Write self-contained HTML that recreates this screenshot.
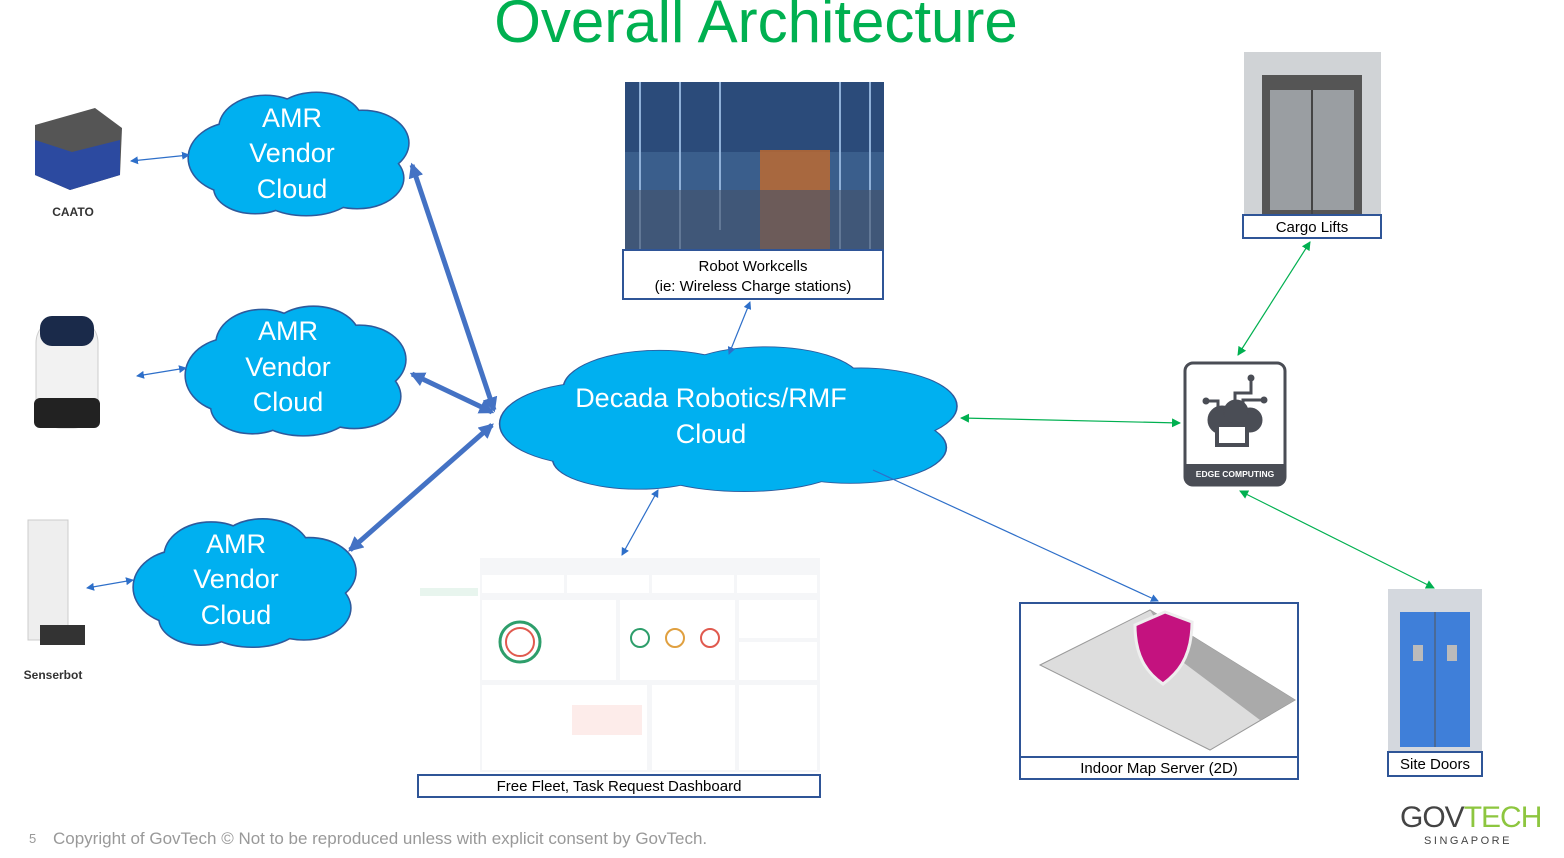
<!DOCTYPE html>
<html><head><meta charset="utf-8"><style>
body{margin:0;width:1564px;height:858px;background:#fff;overflow:hidden;font-family:"Liberation Sans","DejaVu Sans",sans-serif}
svg{position:absolute;left:0;top:0}
</style></head><body>
<svg width="1564" height="858" viewBox="0 0 1564 858">
<defs>
<marker id="bt" markerWidth="3" markerHeight="3" refX="2.5" refY="1.5" orient="auto-start-reverse" markerUnits="strokeWidth"><path d="M0,0 L3,1.5 L0,3z" fill="#4472c4"/></marker>
<marker id="bs" markerWidth="8" markerHeight="8" refX="7" refY="4" orient="auto-start-reverse" markerUnits="userSpaceOnUse"><path d="M0,0 L8,4 L0,8z" fill="#2e6fc9"/></marker>
<marker id="gs" markerWidth="9" markerHeight="9" refX="8" refY="4.5" orient="auto-start-reverse" markerUnits="userSpaceOnUse"><path d="M0,0 L9,4.5 L0,9z" fill="#00b050"/></marker>
<g id="cl">
<ellipse cx="-60" cy="5" rx="45" ry="35"/><ellipse cx="-30" cy="-25" rx="45" ry="32"/><ellipse cx="20" cy="-30" rx="45" ry="30"/><ellipse cx="65" cy="-10" rx="45" ry="32"/><ellipse cx="60" cy="25" rx="45" ry="30"/><ellipse cx="10" cy="35" rx="50" ry="27"/><ellipse cx="-40" cy="35" rx="40" ry="25"/><ellipse cx="0" cy="0" rx="80" ry="45"/>
</g>
</defs>
<text x="756" y="42" text-anchor="middle" font-size="60" fill="#00b050">Overall Architecture</text>

<g transform="translate(296,153) scale(1.02,1.0)"><use href="#cl" fill="#00b0f0" stroke="#2e5a9c" stroke-width="3"/><use href="#cl" fill="#00b0f0"/></g>
<g transform="translate(293,370) scale(1.02,1.05)"><use href="#cl" fill="#00b0f0" stroke="#2e5a9c" stroke-width="3"/><use href="#cl" fill="#00b0f0"/></g>
<g transform="translate(242,582) scale(1.03,1.04)"><use href="#cl" fill="#00b0f0" stroke="#2e5a9c" stroke-width="3"/><use href="#cl" fill="#00b0f0"/></g>
<g transform="translate(723,418) scale(2.12,1.18)"><use href="#cl" fill="#00b0f0" stroke="#2e5a9c" stroke-width="1.5"/><use href="#cl" fill="#00b0f0"/></g>
<g fill="#fff" font-size="27" text-anchor="middle">
<text x="292" y="127">AMR</text><text x="292" y="162">Vendor</text><text x="292" y="198">Cloud</text>
<text x="288" y="340">AMR</text><text x="288" y="376">Vendor</text><text x="288" y="411">Cloud</text>
<text x="236" y="553">AMR</text><text x="236" y="588">Vendor</text><text x="236" y="624">Cloud</text>
<text x="711" y="407">Decada Robotics/RMF</text><text x="711" y="443">Cloud</text>
</g>

<g stroke="#4472c4" stroke-width="5" fill="none">
<line x1="412" y1="165" x2="494" y2="410" marker-start="url(#bt)" marker-end="url(#bt)"/>
<line x1="412" y1="374" x2="492" y2="412" marker-start="url(#bt)" marker-end="url(#bt)"/>
<line x1="350" y1="550" x2="492" y2="425" marker-start="url(#bt)" marker-end="url(#bt)"/>
</g>
<g stroke="#2e6fc9" stroke-width="1.2" fill="none">
<line x1="131" y1="161" x2="189" y2="155" marker-start="url(#bs)" marker-end="url(#bs)"/>
<line x1="137" y1="376" x2="186" y2="368" marker-start="url(#bs)" marker-end="url(#bs)"/>
<line x1="87" y1="588" x2="133" y2="580" marker-start="url(#bs)" marker-end="url(#bs)"/>
<line x1="750" y1="302" x2="729" y2="354" marker-start="url(#bs)" marker-end="url(#bs)"/>
<line x1="658" y1="490" x2="622" y2="555" marker-start="url(#bs)" marker-end="url(#bs)"/>
<line x1="873" y1="470" x2="1158" y2="601" marker-end="url(#bs)"/>
</g>
<g stroke="#00b050" stroke-width="1.2" fill="none">
<line x1="961" y1="418" x2="1180" y2="423" marker-start="url(#gs)" marker-end="url(#gs)"/>
<line x1="1310" y1="242" x2="1238" y2="355" marker-start="url(#gs)" marker-end="url(#gs)"/>
<line x1="1240" y1="491" x2="1434" y2="588" marker-start="url(#gs)" marker-end="url(#gs)"/>
</g>

<path d="M35,125 L95,108 L122,128 L120,175 L70,190 L35,175z" fill="#555"/>
<path d="M35,140 L72,152 L120,140 L120,175 L70,190 L35,175z" fill="#2c4aa0"/>
<text x="73" y="216" font-size="12" text-anchor="middle" fill="#333" font-weight="bold">CAATO</text>
<rect x="36" y="318" width="62" height="110" rx="25" fill="#f2f2f2" stroke="#ccc"/>
<rect x="40" y="316" width="54" height="30" rx="12" fill="#1a2a4a"/>
<rect x="34" y="398" width="66" height="30" rx="6" fill="#222"/>
<rect x="28" y="520" width="40" height="120" fill="#eee" stroke="#ccc"/>
<rect x="40" y="625" width="45" height="20" fill="#333"/>
<text x="53" y="679" font-size="12" text-anchor="middle" fill="#333" font-weight="bold">Senserbot</text>

<rect x="625" y="82" width="259" height="168" fill="#3a5e8c"/>
<rect x="625" y="82" width="259" height="70" fill="#2b4b7a"/>
<g stroke="#8fb0d8" stroke-width="2"><line x1="640" y1="82" x2="640" y2="250"/><line x1="680" y1="82" x2="680" y2="250"/><line x1="720" y1="82" x2="720" y2="230"/><line x1="840" y1="82" x2="840" y2="250"/><line x1="870" y1="82" x2="870" y2="250"/></g>
<rect x="760" y="150" width="70" height="100" fill="#c46a2c" opacity=".8"/>
<rect x="625" y="190" width="259" height="60" fill="#44546a" opacity=".6"/>
<rect x="623" y="250" width="260" height="49" fill="#fff" stroke="#2f5597" stroke-width="2"/>
<text x="753" y="271" font-size="15" text-anchor="middle">Robot Workcells</text>
<text x="753" y="291" font-size="15" text-anchor="middle">(ie: Wireless Charge stations)</text>

<rect x="1244" y="52" width="137" height="163" fill="#d0d3d6"/>
<rect x="1262" y="75" width="100" height="140" fill="#555"/>
<rect x="1270" y="90" width="84" height="120" fill="#9a9ea2"/>
<line x1="1312" y1="90" x2="1312" y2="215" stroke="#444" stroke-width="2"/>
<rect x="1243" y="215" width="138" height="23" fill="#fff" stroke="#2f5597" stroke-width="2"/>
<text x="1312" y="232" font-size="15" text-anchor="middle">Cargo Lifts</text>

<rect x="1185" y="363" width="100" height="122" rx="8" fill="#fff" stroke="#4a4d55" stroke-width="3"/>
<path d="M1185,464 H1285 V477 a8,8 0 0 1 -8,8 H1193 a8,8 0 0 1 -8,-8z" fill="#4a4d55"/>
<text x="1235" y="477" font-size="8.5" font-weight="bold" text-anchor="middle" fill="#fff">EDGE COMPUTING</text>
<g fill="#4a4d55" stroke="#4a4d55"><circle cx="1222" cy="420" r="14"/><circle cx="1250" cy="420" r="12"/><circle cx="1236" cy="412" r="12"/>
<rect x="1217" y="425" width="30" height="20" fill="#fff" stroke-width="4"/>
<polyline points="1235,408 1235,393 1251,393 1251,378" fill="none" stroke-width="3"/><circle cx="1251" cy="378" r="3"/>
<polyline points="1243,404 1243,400 1264,400" fill="none" stroke-width="3"/><circle cx="1264" cy="400" r="3"/>
<polyline points="1218,410 1218,401 1206,401" fill="none" stroke-width="3"/><circle cx="1206" cy="401" r="3"/></g>

<rect x="418" y="558" width="402" height="214" fill="#fff"/>
<rect x="480" y="558" width="340" height="214" fill="#f5f6f8"/>
<g fill="#fff"><rect x="482" y="575" width="82" height="18"/><rect x="567" y="575" width="82" height="18"/><rect x="652" y="575" width="82" height="18"/><rect x="737" y="575" width="80" height="18"/>
<rect x="482" y="600" width="134" height="80"/><rect x="620" y="600" width="115" height="80"/><rect x="739" y="600" width="78" height="38"/><rect x="739" y="642" width="78" height="38"/>
<rect x="482" y="685" width="165" height="85"/><rect x="652" y="685" width="83" height="85"/><rect x="739" y="685" width="78" height="85"/></g>
<circle cx="520" cy="642" r="20" fill="none" stroke="#2e9e6b" stroke-width="3"/><circle cx="520" cy="642" r="14" fill="none" stroke="#e05a4f" stroke-width="2"/>
<g fill="#bbb"><circle cx="640" cy="638" r="9" fill="none" stroke="#2e9e6b" stroke-width="2"/><circle cx="675" cy="638" r="9" fill="none" stroke="#e0a040" stroke-width="2"/><circle cx="710" cy="638" r="9" fill="none" stroke="#e05a4f" stroke-width="2"/>
<rect x="572" y="705" width="70" height="30" fill="#fdecea"/></g>
<rect x="420" y="588" width="58" height="8" fill="#e8f5ee"/>
<rect x="418" y="775" width="402" height="22" fill="#fff" stroke="#2f5597" stroke-width="2"/>
<text x="619" y="791" font-size="15" text-anchor="middle">Free Fleet, Task Request Dashboard</text>

<rect x="1020" y="603" width="278" height="154" fill="#fff" stroke="#2f5597" stroke-width="2"/>
<path d="M1040,665 L1150,610 L1295,700 L1210,750 Z" fill="#ddd" stroke="#999"/>
<path d="M1150,610 L1295,700 L1260,720 L1180,660z" fill="#aaa"/>
<path d="M1135,625 L1165,612 L1192,622 C1192,660 1175,675 1163,684 C1150,675 1135,660 1135,625z" fill="#c4127f" stroke="#eee" stroke-width="3"/>
<rect x="1020" y="757" width="278" height="22" fill="#fff" stroke="#2f5597" stroke-width="2"/>
<text x="1159" y="773" font-size="15" text-anchor="middle">Indoor Map Server (2D)</text>

<rect x="1388" y="589" width="94" height="163" fill="#d4d8de"/>
<rect x="1400" y="612" width="70" height="135" fill="#3f7fd9"/>
<line x1="1435" y1="612" x2="1435" y2="747" stroke="#555"/>
<rect x="1413" y="645" width="10" height="16" fill="#bbb"/><rect x="1447" y="645" width="10" height="16" fill="#bbb"/>
<rect x="1388" y="752" width="94" height="24" fill="#fff" stroke="#2f5597" stroke-width="2"/>
<text x="1435" y="769" font-size="15" text-anchor="middle">Site Doors</text>

<text x="29" y="843" font-size="13" fill="#999">5</text>
<text x="53" y="844" font-size="17" fill="#999">Copyright of GovTech © Not to be reproduced unless with explicit consent by GovTech.</text>
<text x="1400" y="827" font-size="30" fill="#444" letter-spacing="-1">GOV<tspan fill="#8dc63f">TECH</tspan></text>
<text x="1468" y="844" font-size="11" fill="#444" text-anchor="middle" letter-spacing="2.5">SINGAPORE</text>
</svg>
</body></html>
